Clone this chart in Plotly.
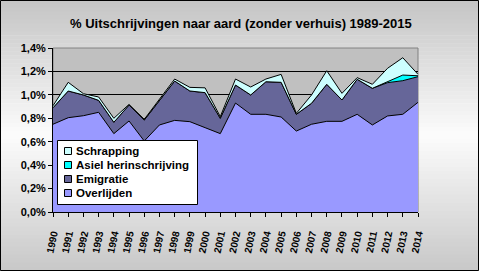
import plotly.graph_objects as go

years = [str(y) for y in range(1990, 2015)]
overlijden = [0.749, 0.805, 0.822, 0.851, 0.669, 0.777, 0.606, 0.743, 0.782, 0.771,
              0.720, 0.669, 0.930, 0.834, 0.834, 0.811, 0.691, 0.749, 0.774, 0.774,
              0.834, 0.743, 0.820, 0.834, 0.936]
emigratie = [0.141, 0.228, 0.177, 0.102, 0.097, 0.136, 0.179, 0.207, 0.336, 0.262,
             0.299, 0.131, 0.154, 0.165, 0.278, 0.296, 0.143, 0.179, 0.316, 0.182,
             0.299, 0.313, 0.284, 0.287, 0.219]
asiel = [0.0, 0.0, 0.0, 0.0, 0.0, 0.0, 0.0, 0.0, 0.0, 0.0,
         0.0, 0.0, 0.0, 0.0, 0.0, 0.0, 0.0, 0.0, 0.0, 0.0,
         0.0, 0.0, 0.006, 0.048, 0.008]
schrapping = [0.017, 0.074, 0.011, 0.029, 0.034, 0.006, 0.006, 0.010, 0.017, 0.031,
              0.041, 0.014, 0.051, 0.068, 0.023, 0.068, 0.008, 0.071, 0.116, 0.057,
              0.014, 0.034, 0.117, 0.148, 0.012]

series = [
    ("Overlijden", overlijden, "#9999FF"),
    ("Emigratie", emigratie, "#666699"),
    ("Asiel herinschrijving", asiel, "#00FFFF"),
    ("Schrapping", schrapping, "#CCFFFF"),
]

W, H = 479, 271
L, R, T, B = 53, 61, 48, 59
pw, ph = W - L - R, H - T - B


def px(x):
    return (x - L) / pw


def py(y):
    return (H - B - y) / ph


fig = go.Figure()
for name, vals, col in series:
    fig.add_trace(go.Scatter(
        x=years, y=vals, name=name, mode="lines", stackgroup="one",
        line=dict(color="black", width=1), fillcolor=col, showlegend=False,
    ))

shapes = []
# vertical gradient background
n = 68
for i in range(n):
    t0 = i / n
    t1 = (i + 1) / n
    tm = (t0 + t1) / 2
    if tm < 0.5:
        c = 196 + (252 - 196) * (tm / 0.5)
    else:
        c = 252 + (200 - 252) * ((tm - 0.5) / 0.5)
    c = int(round(c))
    shapes.append(dict(type="rect", xref="paper", yref="paper", layer="below",
                       x0=px(0), x1=px(W), y0=py(t1 * H), y1=py(t0 * H) + 0.003,
                       line=dict(width=0), fillcolor=f"rgb({c},{c},{c})"))
# plot area fill with grey border
shapes.append(dict(type="rect", xref="paper", yref="paper", layer="below",
                   x0=0, x1=1, y0=0, y1=1, line=dict(color="#808080", width=1),
                   fillcolor="#C0C0C0"))
# outer frame
shapes.append(dict(type="rect", xref="paper", yref="paper", layer="above",
                   x0=px(0.5), x1=px(W - 0.5), y0=py(H - 0.5), y1=py(0.5),
                   line=dict(color="black", width=1)))

# custom legend (Excel style, compact)
annotations = []
shapes.append(dict(type="rect", xref="paper", yref="paper", layer="above",
                   x0=px(57.5), x1=px(197.5), y0=py(204.5), y1=py(140.5),
                   line=dict(color="black", width=1), fillcolor="white"))
legend_rows = list(reversed(series))
row_y = [151, 165, 179, 193]
for (name, _, col), yc in zip(legend_rows, row_y):
    shapes.append(dict(type="rect", xref="paper", yref="paper", layer="above",
                       x0=px(64.5), x1=px(71.5), y0=py(yc + 3.5), y1=py(yc - 3.5),
                       line=dict(color="black", width=1), fillcolor=col))
    annotations.append(dict(text=name, xref="paper", yref="paper",
                            x=px(74), y=py(yc), xanchor="left", yanchor="middle",
                            showarrow=False,
                            font=dict(family="Arial, Liberation Sans", size=11.5,
                                      color="black", weight="bold")))

fig.update_layout(
    width=W, height=H,
    margin=dict(l=L, r=R, t=T, b=B),
    paper_bgcolor="rgba(0,0,0,0)",
    plot_bgcolor="rgba(0,0,0,0)",
    separators=",.",
    shapes=shapes,
    annotations=annotations,
    title=dict(text="% Uitschrijvingen naar aard (zonder verhuis) 1989-2015",
               x=0.503, xref="container", xanchor="center",
               y=1 - 23 / H, yref="container", yanchor="middle",
               font=dict(family="Arial, Liberation Sans", size=13, color="black",
                         weight="bold")),
    font=dict(family="Arial, Liberation Sans", color="black"),
    showlegend=False,
    xaxis=dict(type="category", range=[0, len(years) - 1], showgrid=False,
               showline=True, linecolor="black", linewidth=1,
               ticks="outside", ticklen=4, tickcolor="black",
               tickangle=-78, ticklabelstandoff=7,
               tickfont=dict(size=10, family="Arial, Liberation Sans", weight="bold"),
               zeroline=False),
    yaxis=dict(range=[0, 1.4], dtick=0.2, tickformat=".1f", ticksuffix="%",
               showgrid=True, gridcolor="black", gridwidth=1,
               showline=True, linecolor="black", linewidth=1,
               ticks="outside", ticklen=4, tickcolor="black",
               tickfont=dict(size=11, family="Arial, Liberation Sans", weight="bold"),
               zeroline=False),
)

fig.write_html("out.html")
